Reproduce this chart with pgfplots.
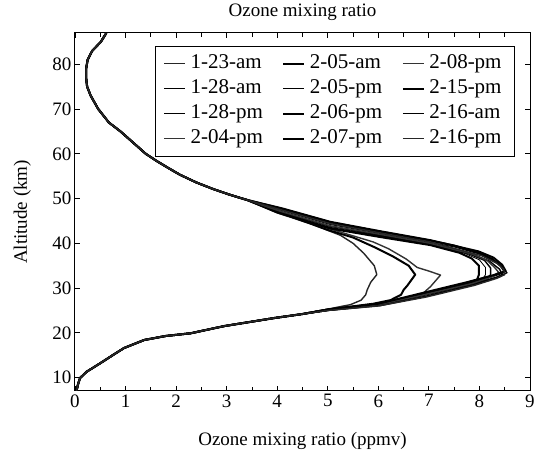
\documentclass[border=0pt]{standalone}
\usepackage{fontspec}
\setmainfont{Liberation Serif}
\usepackage{pgfplots}
\pgfplotsset{compat=1.18}
\begin{document}
\begin{tikzpicture}
\begin{axis}[
  scale only axis, width=455pt, height=358pt,
  xmin=0, xmax=9, ymin=7, ymax=87,
  xtick={0,...,9}, minor x tick num=1,
  ytick={10,20,...,80},
  tick align=inside, major tick length=5pt, minor tick length=4pt,
  every tick/.style={black, line width=0.8pt},
  axis line style={line width=1pt},
  /pgf/number format/assume math mode=true,
  tick label style={font=\fontsize{19}{22}\selectfont},
  title={Ozone mixing ratio},
  title style={at={(0.5,1.0307)}, anchor=base, font=\fontsize{19}{22}\selectfont},
  xlabel={Ozone mixing ratio (ppmv)},
  xlabel style={at={(0.5,-0.151)}, anchor=base, font=\fontsize{19}{22}\selectfont},
  ylabel={Altitude (km)},
  ylabel style={at={(-0.1055,0.5)}, anchor=base, font=\fontsize{19}{22}\selectfont},
  legend columns=3,
  legend style={at={(0.967,0.9645)}, anchor=north east, draw=black, line width=0.8pt,
    font=\fontsize{21}{25}\selectfont, inner xsep=8.5pt, inner ysep=5pt,
    /tikz/every even column/.append style={column sep=15pt},
    nodes={inner xsep=4.5pt, inner ysep=3.5pt, text height=14pt, text depth=4pt},
    cells={anchor=west}},
  legend image code/.code={\draw[#1] (0pt,0pt) -- (21pt,0pt);},
  every axis plot/.append style={black, line join=round},
]
\coordinate (sw) at (rel axis cs:0,0);
\coordinate (ne) at (rel axis cs:1,1);
% row 1: 1-23-am, 2-05-am, 2-08-pm
\addplot[line width=1.4pt, black!85] coordinates {
(0.03,7) (0.06,8.5) (0.10,9.9) (0.23,11.3) (0.50,13.2) (0.76,15.1) (0.97,16.6) (1.37,18.4) (1.80,19.3) (2.29,19.9) (2.95,21.5) (3.94,23.3) (4.50,24.2)
(5.0,25.3) (5.45,26.3) (5.66,27.3) (5.75,28.5) (5.78,29.6) (5.85,31.3) (5.97,33.0) (5.92,35.0) (5.71,37.8) (5.5,40.0) (5.25,41.8) (4.7,44.2) (4.0,46.8)
(3.40,49.7) (3.05,50.9) (2.74,52.1) (2.40,53.6) (2.08,55.3) (1.85,56.8) (1.60,58.5) (1.40,60) (1.20,62) (0.90,65) (0.67,67) (0.46,70) (0.31,73) (0.24,75) (0.22,77) (0.22,79) (0.25,81) (0.34,83) (0.51,85) (0.62,87)};
\addlegendentry{1-23-am}
\addplot[line width=2pt] coordinates {
(0.03,7) (0.06,8.5) (0.10,9.9) (0.23,11.3) (0.50,13.2) (0.76,15.1) (0.97,16.6) (1.37,18.4) (1.80,19.3) (2.29,19.9) (2.95,21.5) (3.94,23.3) (4.50,24.2)
(5.0,25.2) (5.9,26.5) (6.24,27.3) (6.45,28.5) (6.5,29.6) (6.57,30.5) (6.73,33.0) (6.6,35.0) (6.3,37.0) (5.95,39.0) (5.5,41.3) (5.0,43.0) (4.05,46.9)
(3.40,49.7) (3.05,50.9) (2.74,52.1) (2.40,53.6) (2.08,55.3) (1.85,56.8) (1.60,58.5) (1.40,60) (1.20,62) (0.90,65) (0.67,67) (0.46,70) (0.31,73) (0.24,75) (0.22,77) (0.22,79) (0.25,81) (0.34,83) (0.51,85) (0.62,87)};
\addlegendentry{2-05-am}
\addplot[line width=1.4pt, black!80] coordinates {
(0.03,7) (0.06,8.5) (0.10,9.9) (0.23,11.3) (0.50,13.2) (0.76,15.1) (0.97,16.6) (1.37,18.4) (1.80,19.3) (2.29,19.9) (2.95,21.5) (3.94,23.3) (4.50,24.2)
(5.0,25.1) (6.0,26.5) (6.5,27.5) (6.83,28.3) (6.95,29.5) (7.03,30.3) (7.23,32.9) (7.0,33.8) (6.77,34.6) (6.55,36.5) (6.2,38.8) (5.9,40.3) (5.05,43.2) (4.05,47.0)
(3.40,49.7) (3.05,50.9) (2.74,52.1) (2.40,53.6) (2.08,55.3) (1.85,56.8) (1.60,58.5) (1.40,60) (1.20,62) (0.90,65) (0.67,67) (0.46,70) (0.31,73) (0.24,75) (0.22,77) (0.22,79) (0.25,81) (0.34,83) (0.51,85) (0.62,87)};
\addlegendentry{2-08-pm}
% row 2: 1-28-am, 2-05-pm, 2-15-pm
\addplot[line width=1.4pt] coordinates {
(0.03,7) (0.06,8.5) (0.10,9.9) (0.23,11.3) (0.50,13.2) (0.76,15.1) (0.97,16.6) (1.37,18.4) (1.80,19.3) (2.29,19.9) (2.95,21.5) (3.94,23.3) (4.50,24.2)
(5.0,25.0) (6.0,26.2) (6.9,28.4) (7.85,30.9) (8.15,31.9) (8.22,33.0) (8.22,34.5) (8.1,36.2) (7.8,37.6) (7.03,39.8) (6.04,41.6) (5.05,43.5) (4.0,47.0)
(3.40,49.7) (3.05,50.9) (2.74,52.1) (2.40,53.6) (2.08,55.3) (1.85,56.8) (1.60,58.5) (1.40,60) (1.20,62) (0.90,65) (0.67,67) (0.46,70) (0.31,73) (0.24,75) (0.22,77) (0.22,79) (0.25,81) (0.34,83) (0.51,85) (0.62,87)};
\addlegendentry{1-28-am}
\addplot[line width=0.8pt] coordinates {
(0.03,7) (0.06,8.5) (0.10,9.9) (0.23,11.3) (0.50,13.2) (0.76,15.1) (0.97,16.6) (1.37,18.4) (1.80,19.3) (2.29,19.9) (2.95,21.5) (3.94,23.3) (4.50,24.2)
(5.0,25.1) (6.0,26.3) (6.85,28.5) (7.8,31.0) (8.05,31.8) (8.12,33.0) (8.12,34.6) (8.0,36.3) (7.7,37.8) (7.03,39.9) (6.04,41.5) (5.05,43.4) (4.0,46.9)
(3.40,49.7) (3.05,50.9) (2.74,52.1) (2.40,53.6) (2.08,55.3) (1.85,56.8) (1.60,58.5) (1.40,60) (1.20,62) (0.90,65) (0.67,67) (0.46,70) (0.31,73) (0.24,75) (0.22,77) (0.22,79) (0.25,81) (0.34,83) (0.51,85) (0.62,87)};
\addlegendentry{2-05-pm}
\addplot[line width=2pt] coordinates {
(0.03,7) (0.06,8.5) (0.10,9.9) (0.23,11.3) (0.50,13.2) (0.76,15.1) (0.97,16.6) (1.37,18.4) (1.80,19.3) (2.29,19.9) (2.95,21.5) (3.94,23.3) (4.50,24.2)
(5.0,25.2) (6.0,26.4) (6.85,28.6) (7.7,31.0) (7.95,31.8) (7.99,33.0) (7.99,35.0) (7.85,36.6) (7.6,37.9) (7.03,39.6) (6.04,41.4) (5.05,43.3) (4.0,46.9)
(3.40,49.7) (3.05,50.9) (2.74,52.1) (2.40,53.6) (2.08,55.3) (1.85,56.8) (1.60,58.5) (1.40,60) (1.20,62) (0.90,65) (0.67,67) (0.46,70) (0.31,73) (0.24,75) (0.22,77) (0.22,79) (0.25,81) (0.34,83) (0.51,85) (0.62,87)};
\addlegendentry{2-15-pm}
% row 3: 1-28-pm, 2-06-pm, 2-16-am
\addplot[line width=1pt] coordinates {
(0.03,7) (0.06,8.5) (0.10,9.9) (0.23,11.3) (0.50,13.2) (0.76,15.1) (0.97,16.6) (1.37,18.4) (1.80,19.3) (2.29,19.9) (2.95,21.5) (3.94,23.3) (4.50,24.2)
(5.0,25.0) (6.0,26.2) (6.9,28.4) (7.85,30.9) (8.35,32.5) (8.55,33.4) (8.45,34.7) (8.3,36.0) (8.0,37.6) (7.5,39.2) (7.03,40.2) (6.04,42.2) (5.05,44.2) (4.1,47.3)
(3.40,49.7) (3.05,50.9) (2.74,52.1) (2.40,53.6) (2.08,55.3) (1.85,56.8) (1.60,58.5) (1.40,60) (1.20,62) (0.90,65) (0.67,67) (0.46,70) (0.31,73) (0.24,75) (0.22,77) (0.22,79) (0.25,81) (0.34,83) (0.51,85) (0.62,87)};
\addlegendentry{1-28-pm}
\addplot[line width=2pt] coordinates {
(0.03,7) (0.06,8.5) (0.10,9.9) (0.23,11.3) (0.50,13.2) (0.76,15.1) (0.97,16.6) (1.37,18.4) (1.80,19.3) (2.29,19.9) (2.95,21.5) (3.94,23.3) (4.50,24.2)
(5.0,25.1) (6.0,26.4) (6.85,28.6) (7.8,31.2) (8.3,32.8) (8.5,33.6) (8.42,35.0) (8.25,36.5) (7.95,38.0) (7.5,39.5) (7.03,40.6) (6.04,42.6) (5.05,44.7) (4.1,47.7)
(3.40,49.7) (3.05,50.9) (2.74,52.1) (2.40,53.6) (2.08,55.3) (1.85,56.8) (1.60,58.5) (1.40,60) (1.20,62) (0.90,65) (0.67,67) (0.46,70) (0.31,73) (0.24,75) (0.22,77) (0.22,79) (0.25,81) (0.34,83) (0.51,85) (0.62,87)};
\addlegendentry{2-06-pm}
\addplot[line width=1.4pt] coordinates {
(0.03,7) (0.06,8.5) (0.10,9.9) (0.23,11.3) (0.50,13.2) (0.76,15.1) (0.97,16.6) (1.37,18.4) (1.80,19.3) (2.29,19.9) (2.95,21.5) (3.94,23.3) (4.50,24.2)
(5.0,25.0) (6.05,26.1) (6.95,28.2) (7.9,30.8) (8.3,32.2) (8.45,33.0) (8.4,34.2) (8.2,36.0) (7.9,37.4) (7.5,38.7) (7.03,39.8) (6.04,41.8) (5.05,43.8) (4.05,47.1)
(3.40,49.7) (3.05,50.9) (2.74,52.1) (2.40,53.6) (2.08,55.3) (1.85,56.8) (1.60,58.5) (1.40,60) (1.20,62) (0.90,65) (0.67,67) (0.46,70) (0.31,73) (0.24,75) (0.22,77) (0.22,79) (0.25,81) (0.34,83) (0.51,85) (0.62,87)};
\addlegendentry{2-16-am}
% row 4: 2-04-pm, 2-07-pm, 2-16-pm
\addplot[line width=1.4pt, black!80] coordinates {
(0.03,7) (0.06,8.5) (0.10,9.9) (0.23,11.3) (0.50,13.2) (0.76,15.1) (0.97,16.6) (1.37,18.4) (1.80,19.3) (2.29,19.9) (2.95,21.5) (3.94,23.3) (4.50,24.2)
(5.0,25.1) (6.0,26.3) (6.9,28.5) (7.85,31.0) (8.25,32.5) (8.38,33.5) (8.3,34.6) (8.15,36.2) (7.85,37.6) (7.03,40.0) (6.04,42.0) (5.05,43.9) (4.05,47.2)
(3.40,49.7) (3.05,50.9) (2.74,52.1) (2.40,53.6) (2.08,55.3) (1.85,56.8) (1.60,58.5) (1.40,60) (1.20,62) (0.90,65) (0.67,67) (0.46,70) (0.31,73) (0.24,75) (0.22,77) (0.22,79) (0.25,81) (0.34,83) (0.51,85) (0.62,87)};
\addlegendentry{2-04-pm}
\addplot[line width=2pt] coordinates {
(0.03,7) (0.06,8.5) (0.10,9.9) (0.23,11.3) (0.50,13.2) (0.76,15.1) (0.97,16.6) (1.37,18.4) (1.80,19.3) (2.29,19.9) (2.95,21.5) (3.94,23.3) (4.50,24.2)
(5.0,25.2) (6.0,26.5) (6.8,28.7) (7.75,31.3) (8.28,32.9) (8.52,33.8) (8.45,35.2) (8.28,36.8) (7.98,38.2) (7.03,40.7) (6.04,42.7) (5.05,44.8) (4.1,47.8)
(3.40,49.7) (3.05,50.9) (2.74,52.1) (2.40,53.6) (2.08,55.3) (1.85,56.8) (1.60,58.5) (1.40,60) (1.20,62) (0.90,65) (0.67,67) (0.46,70) (0.31,73) (0.24,75) (0.22,77) (0.22,79) (0.25,81) (0.34,83) (0.51,85) (0.62,87)};
\addlegendentry{2-07-pm}
\addplot[line width=1.4pt, black!85] coordinates {
(0.03,7) (0.06,8.5) (0.10,9.9) (0.23,11.3) (0.50,13.2) (0.76,15.1) (0.97,16.6) (1.37,18.4) (1.80,19.3) (2.29,19.9) (2.95,21.5) (3.94,23.3) (4.50,24.2)
(5.0,25.0) (6.0,26.0) (6.95,28.0) (7.9,30.6) (8.35,32.2) (8.5,33.0) (8.48,34.2) (8.35,35.5) (8.05,37.2) (7.03,40.3) (6.04,42.3) (5.05,44.4) (4.1,47.4)
(3.40,49.7) (3.05,50.9) (2.74,52.1) (2.40,53.6) (2.08,55.3) (1.85,56.8) (1.60,58.5) (1.40,60) (1.20,62) (0.90,65) (0.67,67) (0.46,70) (0.31,73) (0.24,75) (0.22,77) (0.22,79) (0.25,81) (0.34,83) (0.51,85) (0.62,87)};
\addlegendentry{2-16-pm}
\end{axis}
\pgfresetboundingbox
\path[use as bounding box] ([xshift=-75pt,yshift=-65pt]sw) rectangle ([xshift=9pt,yshift=33pt]ne);
\end{tikzpicture}
\end{document}
